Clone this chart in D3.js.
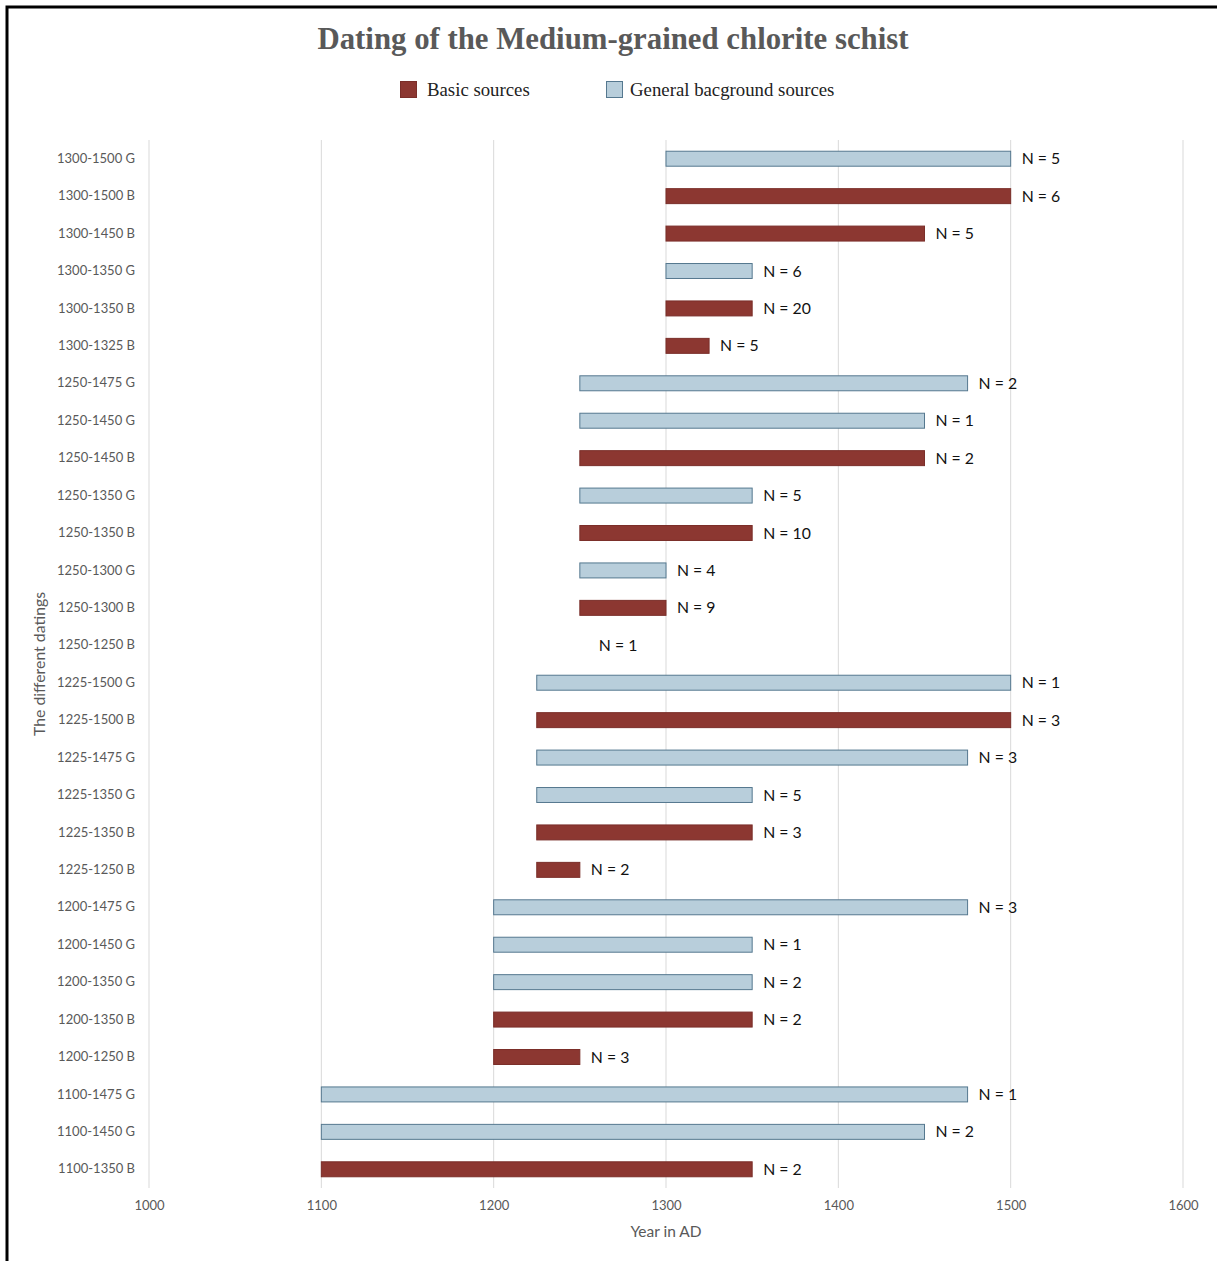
<!DOCTYPE html>
<html>
<head>
<meta charset="utf-8">
<script src="https://cdn.jsdelivr.net/npm/d3@7"></script>
<style>
  html, body { margin: 0; padding: 0; background: #fff; }
  svg { display: block; }
</style>
</head>
<body>
<svg id="chart" width="1217" height="1261"></svg>
<script>
const categories = [
  "1300-1500 G","1300-1500 B","1300-1450 B","1300-1350 G","1300-1350 B","1300-1325 B",
  "1250-1475 G","1250-1450 G","1250-1450 B","1250-1350 G","1250-1350 B","1250-1300 G",
  "1250-1300 B","1250-1250 B","1225-1500 G","1225-1500 B","1225-1475 G","1225-1350 G",
  "1225-1350 B","1225-1250 B","1200-1475 G","1200-1450 G","1200-1350 G","1200-1350 B",
  "1200-1250 B","1100-1475 G","1100-1450 G","1100-1350 B"
];
const startYears = [
  1300,1300,1300,1300,1300,1300,
  1250,1250,1250,1250,1250,1250,
  1250,1250,1225,1225,1225,1225,
  1225,1225,1200,1200,1200,1200,
  1200,1100,1100,1100
];
const endYears = [
  1500,1500,1450,1350,1350,1325,
  1475,1450,1450,1350,1350,1300,
  1300,1250,1500,1500,1475,1350,
  1350,1250,1475,1350,1350,1350,
  1250,1475,1450,1350
];
const counts = [
  5,6,5,6,20,5,
  2,1,2,5,10,4,
  9,1,1,3,3,5,
  3,2,3,1,2,2,
  3,1,2,2
];
const sourceTypes = categories.map(c => c.endsWith("G") ? "General bacground sources" : "Basic sources");
const seriesNames = ["Basic sources", "General bacground sources"];
const xTicks = [1000, 1100, 1200, 1300, 1400, 1500, 1600];

const fills = { "Basic sources": "#8c3731", "General bacground sources": "#b8cedb" };
const strokes = { "Basic sources": "#7a2e29", "General bacground sources": "#55788f" };

const svg = d3.select("#chart");
const plot = { left: 149, right: 1183, top: 140, bottom: 1188 };

// border
svg.append("path")
  .attr("d", "M7,1261V7H1217")
  .attr("fill", "none").attr("stroke", "#000").attr("stroke-width", 3);

const x = d3.scaleLinear().domain([1000, 1600]).range([plot.left, plot.right]);
const y = d3.scaleBand().domain(categories).range([plot.top, plot.bottom]).paddingInner(0.6).paddingOuter(0.3);

// gridlines
svg.append("g").selectAll("line").data(xTicks).join("line")
  .attr("x1", d => x(d)).attr("x2", d => x(d))
  .attr("y1", plot.top).attr("y2", plot.bottom)
  .attr("stroke", "#d9d9d9").attr("stroke-width", 1);

// x axis
const xAxis = svg.append("g")
  .attr("transform", `translate(0,${plot.bottom})`)
  .call(d3.axisBottom(x).tickValues(xTicks).tickFormat(d3.format("d")).tickSize(0).tickPadding(13));
xAxis.select(".domain").remove();
xAxis.selectAll("text").attr("font-family", "Lato, 'Open Sans', sans-serif").attr("font-size", 13).attr("fill", "#595959");

// y axis
const yAxis = svg.append("g")
  .attr("transform", `translate(${plot.left},0)`)
  .call(d3.axisLeft(y).tickSize(0).tickPadding(14));
yAxis.select(".domain").remove();
yAxis.selectAll("text").attr("font-family", "Lato, 'Open Sans', sans-serif").attr("font-size", 13).attr("fill", "#595959");

// bars
const rows = categories.map((c, i) => ({ c, s: startYears[i], e: endYears[i], n: counts[i], t: sourceTypes[i] }));
svg.append("g").selectAll("rect").data(rows.filter(d => d.e > d.s)).join("rect")
  .attr("x", d => x(d.s))
  .attr("y", d => y(d.c))
  .attr("width", d => x(d.e) - x(d.s))
  .attr("height", y.bandwidth())
  .attr("fill", d => fills[d.t])
  .attr("stroke", d => strokes[d.t])
  .attr("stroke-width", 1);

// data labels
svg.append("g").selectAll("text").data(rows).join("text")
  .attr("x", d => x(d.e) + (d.e > d.s ? 11 : 19))
  .attr("y", d => y(d.c) + y.bandwidth() / 2)
  .attr("dy", "0.35em")
  .attr("font-family", "Lato, 'Open Sans', sans-serif")
  .attr("font-size", 15.8)
  .attr("fill", "#111")
  .text(d => `N = ${d.n}`);

// title
svg.append("text")
  .attr("x", 613).attr("y", 49)
  .attr("text-anchor", "middle")
  .attr("font-family", "'Liberation Serif', 'Times New Roman', serif")
  .attr("font-weight", "bold")
  .attr("font-size", 30.8)
  .attr("fill", "#595959")
  .text("Dating of the Medium-grained chlorite schist");

// legend
const legendPos = [400, 606];
const lg = svg.append("g").selectAll("g").data(seriesNames).join("g")
  .attr("transform", (d, i) => `translate(${legendPos[i]},81)`);
lg.append("rect").attr("x", 0.5).attr("y", 0.5).attr("width", 16).attr("height", 16)
  .attr("fill", d => fills[d]).attr("stroke", d => strokes[d]).attr("stroke-width", 1);
lg.append("text").attr("x", d => d === seriesNames[0] ? 27 : 24).attr("y", 15)
  .attr("font-family", "'Liberation Serif', 'Times New Roman', serif")
  .attr("font-size", 18.8).attr("fill", "#222")
  .text(d => d);

// axis titles
svg.append("text")
  .attr("x", (plot.left + plot.right) / 2).attr("y", 1237)
  .attr("text-anchor", "middle")
  .attr("font-family", "Lato, 'Open Sans', sans-serif")
  .attr("font-size", 15.5).attr("fill", "#595959")
  .text("Year in AD");
svg.append("text")
  .attr("transform", `translate(45,${(plot.top + plot.bottom) / 2}) rotate(-90)`)
  .attr("text-anchor", "middle")
  .attr("font-family", "Lato, 'Open Sans', sans-serif")
  .attr("font-size", 15.8).attr("fill", "#595959")
  .text("The different datings");
</script>
</body>
</html>
